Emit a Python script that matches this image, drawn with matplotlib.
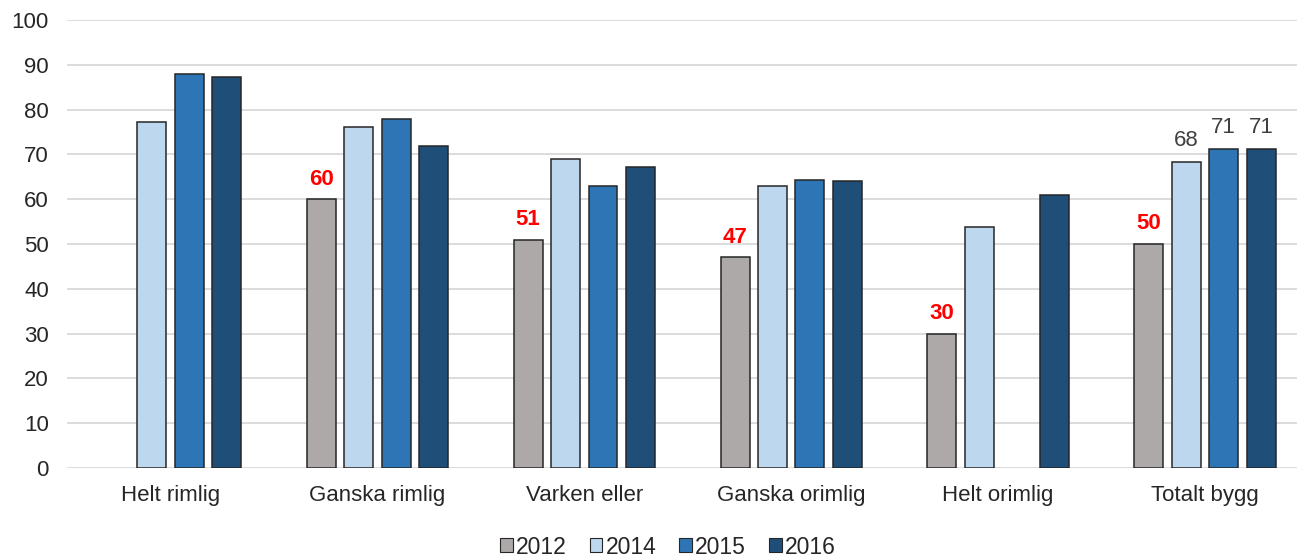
import matplotlib
matplotlib.use("Agg")
import matplotlib.pyplot as plt
import numpy as np
from matplotlib.patches import Patch

categories = ["Helt rimlig", "Ganska rimlig", "Varken eller", "Ganska orimlig", "Helt orimlig", "Totalt bygg"]
years = ["2012", "2014", "2015", "2016"]
v2012 = [np.nan, 60, 51, 47, 30, 50]
v2014 = [77.2, 76.1, 69.0, 62.9, 53.9, 68.4]
v2015 = [87.9, 77.9, 62.9, 64.3, np.nan, 71.3]
v2016 = [87.3, 71.9, 67.2, 64.1, 60.9, 71.3]
labels2012 = ["", "60", "51", "47", "30", "50"]
labels_total = ["68", "71", "71"]
colors = ["#ADA9A8", "#BDD7EE", "#2E75B6", "#1F4E79"]

plt.rcParams['font.family'] = ['Liberation Sans', 'DejaVu Sans']
fig = plt.figure(figsize=(12.97, 5.57), dpi=100)
ax = fig.add_axes([67/1297, 1-468/557, 1-67/1297, (468-20)/557])

series = [v2012, v2014, v2015, v2016]
x = np.arange(len(categories))
step = 0.181
width = 0.14
for i, (vals, c) in enumerate(zip(series, colors)):
    pos = x + (i - 1.5) * step
    ax.bar(pos, vals, width=width, color=c, edgecolor="#262626", linewidth=1.1, zorder=3)

for i, lab in enumerate(labels2012):
    if lab:
        ax.annotate(lab, (x[i] - 1.5 * step, v2012[i]), xytext=(0, 10.5), textcoords="offset points",
                    ha="center", va="baseline", color="#FF0000", fontsize=16, fontweight="bold")
for j, (s, lab) in enumerate(zip(series[1:], labels_total)):
    ax.annotate(lab, (x[5] + (j - 0.5) * step, s[5]), xytext=(0, 11), textcoords="offset points",
                ha="center", va="baseline", color="#404040", fontsize=16)

ax.set_ylim(0, 100)
ax.set_yticks(range(0, 101, 10))
ax.set_xlim(-0.5, 5.5 - 11.5 / 207)
ax.set_xticks(x)
ax.set_xticklabels(categories)
ax.tick_params(axis="both", length=0, labelsize=16, labelcolor="#262626")
ax.tick_params(axis="y", pad=13)
ax.tick_params(axis="x", pad=12)
ax.grid(axis="y", color="#D9D9D9", linewidth=1.3, zorder=0)
for sp in ax.spines.values():
    sp.set_visible(False)

handles = [Patch(facecolor=c, edgecolor="#262626", linewidth=0.8) for c in colors]
fig.legend(handles, years, loc="center", bbox_to_anchor=(668/1297, 1-547/557), ncol=4,
           frameon=False, fontsize=16.5, handlelength=0.55, handleheight=0.55,
           handletextpad=0.15, columnspacing=1.0, labelcolor="#262626")

fig.savefig("out.png", dpi=100)
